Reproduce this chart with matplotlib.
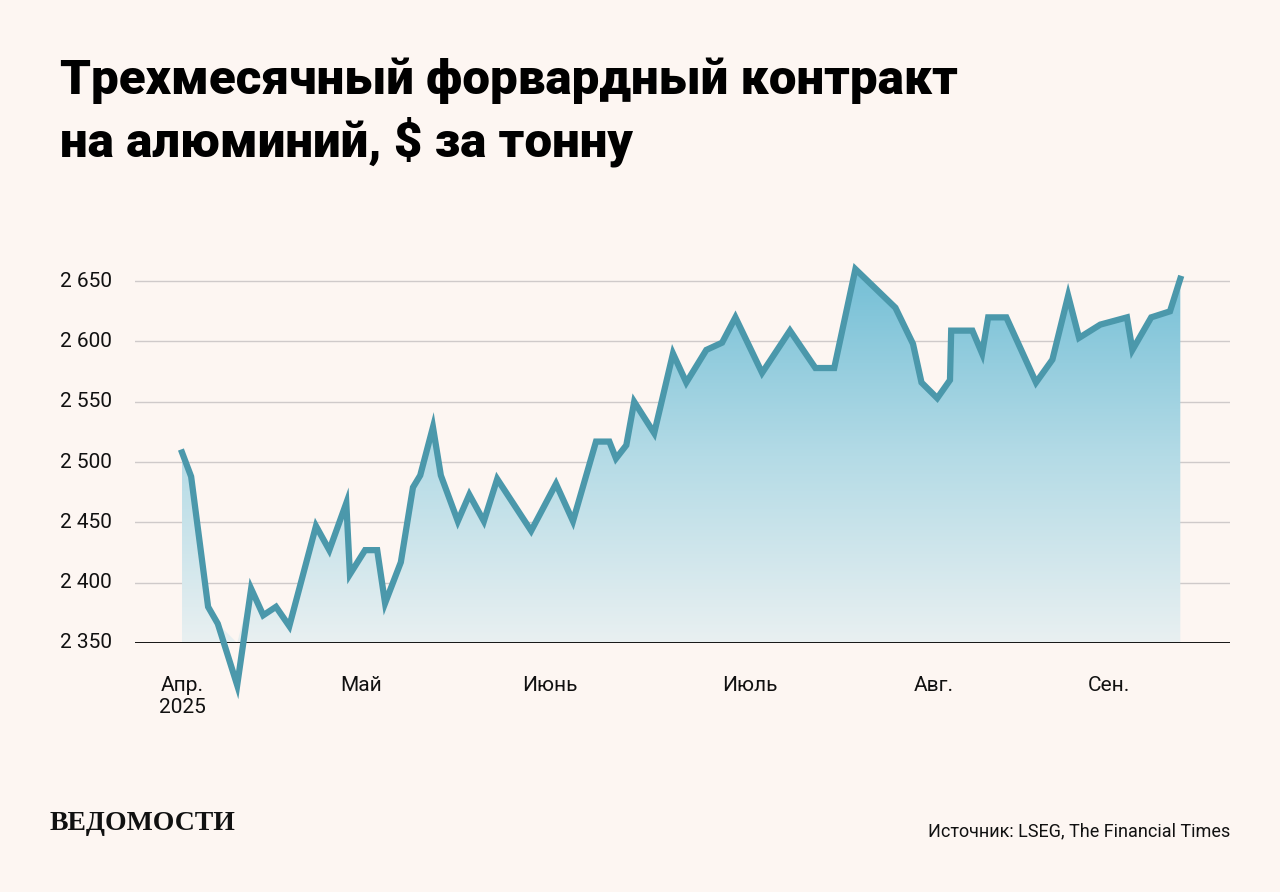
import matplotlib
matplotlib.use("Agg")
import matplotlib.pyplot as plt
import numpy as np
from matplotlib.patches import Polygon
from matplotlib.colors import LinearSegmentedColormap
from matplotlib.transforms import blended_transform_factory

days = [0,1.5,4.3,5.9,9.1,11.4,13.4,15.5,17.7,22.1,24.3,27.1,27.7,30.2,32.2,33.5,36.1,38.1,39.3,41.4,42.7,45.5,47.4,49.8,52,57.6,61.7,64.5,68.3,70.5,71.6,73.3,74.6,77.9,81,83.2,86.5,89.1,91.3,95.7,100.3,104.5,107.6,111.1,117.7,120.6,122,124.6,126.7,126.9,130.4,132,133,136,140.9,143.6,146.2,148,151.5,155.9,156.8,159.9,163,164.7]
prices = [2508,2488,2380,2366,2315,2395,2373,2380,2364,2447,2427,2466,2407,2427,2427,2383,2417,2479,2489,2529,2489,2451,2473,2451,2486,2443,2482,2451,2517,2517,2503,2514,2550,2524,2590,2566,2593,2599,2620,2574,2609,2578,2578,2660,2628,2598,2566,2553,2568,2609,2609,2590,2620,2620,2566,2585,2638,2603,2614,2620,2593,2620,2625,2652]
month_pos = [0,29.5,60.7,93.6,124,153]
month_labels = ["Апр.\n2025","Май","Июнь","Июль","Авг.","Сен."]
yticks = [2350,2400,2450,2500,2550,2600,2650]
ylabels = ["2 350","2 400","2 450","2 500","2 550","2 600","2 650"]

bg = "#fdf6f2"
fig = plt.figure(figsize=(12.8,8.92), dpi=100, facecolor=bg)
ax = fig.add_axes([135/1280, 249/892, 1095/1280, 398/892], facecolor=bg)

for y in yticks[1:]:
    ax.axhline(y, color="#cfcaca", lw=1, zorder=1)

x = np.array(days); yv = np.array(prices)
cmap = LinearSegmentedColormap.from_list("g", ["#e9f0f1", "#b4dbe6", "#74bfd6"])
grad = np.linspace(0, 1, 256).reshape(-1, 1)
im = ax.imshow(grad, extent=[x[0], x[-1], 2350, 2660], origin="lower", aspect="auto", cmap=cmap, zorder=2)
verts = np.vstack([np.column_stack([x, np.maximum(yv, 2350)]), [[x[-1], 2350], [x[0], 2350]]])
poly = Polygon(verts, closed=True, transform=ax.transData, facecolor="none", edgecolor="none")
ax.add_patch(poly)
im.set_clip_path(poly)
ax.set_xlim(-7.76, 172.9); ax.set_ylim(2350, 2680)

ax.plot(x, yv, color="#4b98ab", lw=4.5, solid_joinstyle="miter", zorder=4, clip_on=False)
ax.axhline(2350, color="black", lw=2, zorder=3)

for s in ax.spines.values():
    s.set_visible(False)
ax.set_yticks([])
tr = blended_transform_factory(fig.transFigure, ax.transData)
for y, lab in zip(yticks, ylabels):
    fig.text(60/1280, y, lab, transform=tr, fontsize=15, family="Roboto", color="#111", va="center", ha="left")
ax.set_xticks(month_pos)
ax.set_xticklabels(month_labels, fontsize=15, family="Roboto", color="#111", linespacing=1.2)
ax.tick_params(axis="x", length=0, pad=24)

fig.text(60/1280, 1-58/892, "Трехмесячный форвардный контракт\nна алюминий, $ за тонну", fontsize=35.5,
         family="Roboto", weight="black", va="top", ha="left", linespacing=1.3, color="black")
fig.text(50/1280, 1-824/892, "ВЕДОМОСТИ", fontsize=20, family="Liberation Serif", weight="bold",
         va="center", ha="left", color="#111")
fig.text(1230/1280, 1-831/892, "Источник: LSEG, The Financial Times", fontsize=13, family="Roboto",
         va="center", ha="right", color="#111")
fig.savefig("out.png", dpi=100, facecolor=bg)
